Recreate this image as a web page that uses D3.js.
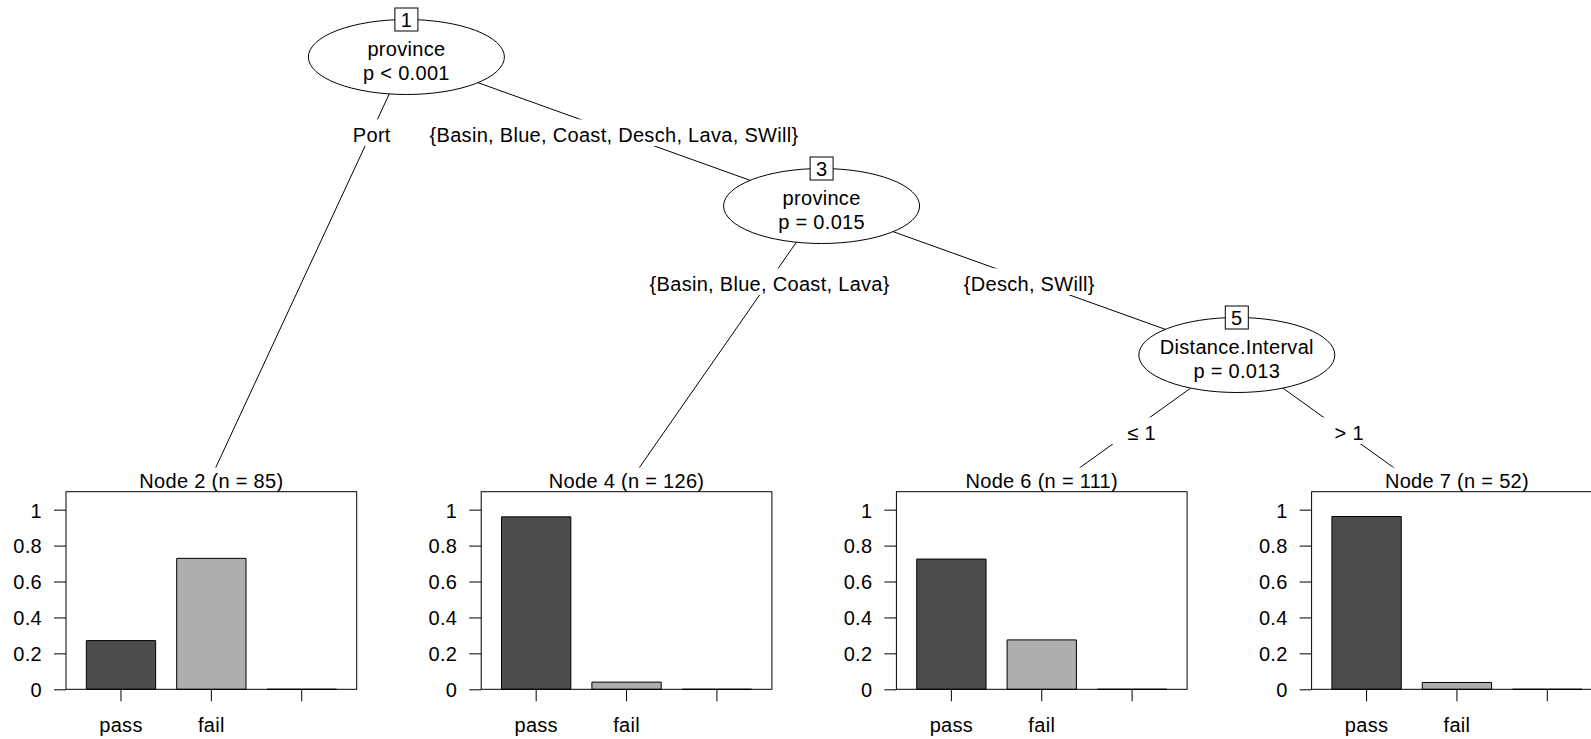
<!DOCTYPE html>
<html><head><meta charset="utf-8">
<script src="https://cdn.jsdelivr.net/npm/d3@7"></script>
<style>
html,body{margin:0;padding:0;background:#fff;overflow:hidden}
svg{display:block;background:#fff}
text{font-family:"Liberation Sans",Arial,Helvetica,sans-serif;font-size:20px;fill:#000;letter-spacing:0.3px}
</style></head><body>
<svg id="chart" width="1591" height="739"></svg>
<script>
// ---------------- data ----------------
const nodeIds      = [1, 2, 3, 4, 5, 6, 7];
const nodeParents  = [null, 1, 1, 3, 3, 5, 5];
const edgeLabels   = [null, "Port", "{Basin, Blue, Coast, Desch, Lava, SWill}", "{Basin, Blue, Coast, Lava}", "{Desch, SWill}", "≤ 1", "> 1"];
const edgePhantom  = [false, false, false, false, false, true, true];

const innerIds       = [1, 3, 5];
const innerVariables = ["province", "province", "Distance.Interval"];
const innerPValues   = ["p < 0.001", "p = 0.015", "p = 0.013"];

const terminalIds = [2, 4, 6, 7];
const terminalN   = [85, 126, 111, 52];
const classLevels = ["pass", "fail", ""];
const passShare   = [0.271, 0.960, 0.725, 0.962];
const failShare   = [0.729, 0.040, 0.275, 0.038];
const otherShare  = [0, 0, 0, 0];
const barColors   = ["#4D4D4D", "#AEAEAE", "#E6E6E6"];

const yTickValues = [0, 0.2, 0.4, 0.6, 0.8, 1];
const yTickLabels = ["0", "0.2", "0.4", "0.6", "0.8", "1"];

// ---------------- layout ----------------
const W = 1591, H = 739;
const kids = {};
nodeIds.forEach(id => kids[id] = []);
nodeIds.forEach((id, i) => { if (nodeParents[i] != null) kids[nodeParents[i]].push(id); });
const depth = {};
(function setDepth(id, d) { depth[id] = d; kids[id].forEach(k => setDepth(k, d + 1)); })(1, 0);
const maxDepth = d3.max(Object.values(depth));
const nLeaves = {};
function countLeaves(id) { nLeaves[id] = kids[id].length ? d3.sum(kids[id], countLeaves) : 1; return nLeaves[id]; }
countLeaves(1);
const xPos = {}, level = {};
function place(id, left) {
  if (!kids[id].length) { xPos[id] = left + 0.5; level[id] = maxDepth; return; }
  xPos[id] = left + nLeaves[kids[id][0]];
  level[id] = depth[id];
  let l = left;
  kids[id].forEach(k => { place(k, l); l += nLeaves[k]; });
}
place(1, 0);

const xTree = d3.scaleLinear().domain([0, nLeaves[1]]).range([-8.8, 1652]);
const yTree = d3.scaleLinear().domain([0, maxDepth]).range([57, 504]);
const yBar  = d3.scaleLinear().domain([0, 1.1]).range([689.3, 491.7]);

const svg = d3.select("#chart");

// ---------------- edges ----------------
const gEdges = svg.append("g");
nodeIds.forEach((id, i) => {
  const p = nodeParents[i]; if (p == null) return;
  gEdges.append("line")
    .attr("x1", xTree(xPos[p])).attr("y1", yTree(level[p]))
    .attr("x2", xTree(xPos[id])).attr("y2", yTree(level[id]))
    .attr("stroke", "#000").attr("stroke-width", 1);
});

const gLabels = svg.append("g");
nodeIds.forEach((id, i) => {
  const p = nodeParents[i]; if (p == null) return;
  const x0 = xTree(xPos[p]), y0 = yTree(level[p]);
  const x1 = xTree(xPos[id]), y1 = yTree(level[id]);
  const ym = yTree(level[p] + 0.5);
  const xm = x0 + (x1 - x0) * (ym - y0) / (y1 - y0);
  const g = gLabels.append("g");
  const rect = g.append("rect");
  const t = g.append("text").attr("x", xm).attr("y", ym + 10.2).attr("text-anchor", "middle");
  if (edgePhantom[i]) {
    t.append("tspan").attr("fill-opacity", 0).text("0");
    t.append("tspan").text(" " + edgeLabels[i]);
  } else {
    t.text(edgeLabels[i]);
  }
  const w = t.node().getComputedTextLength();
  rect.attr("x", xm - w / 2).attr("y", ym + 1.2 - 13.3).attr("width", w).attr("height", 26.6).attr("fill", "#fff");
});

// ---------------- inner nodes ----------------
const rx = 98, ry = 37.5;
innerIds.forEach((id, i) => {
  const cx = xTree(xPos[id]), cy = yTree(level[id]);
  const g = svg.append("g");
  g.append("ellipse").attr("cx", cx).attr("cy", cy).attr("rx", rx).attr("ry", ry)
    .attr("fill", "#fff").attr("stroke", "#000").attr("stroke-width", 1);
  g.append("text").attr("x", cx).attr("y", cy - 1.5).attr("text-anchor", "middle").text(innerVariables[i]);
  g.append("text").attr("x", cx).attr("y", cy + 23).attr("text-anchor", "middle").text(innerPValues[i]);
  g.append("rect").attr("x", cx - 11.5).attr("y", cy - ry - 11.5).attr("width", 23).attr("height", 23)
    .attr("fill", "#fff").attr("stroke", "#000").attr("stroke-width", 1);
  g.append("text").attr("x", cx).attr("y", cy - ry + 7.3).attr("text-anchor", "middle").text(id);
});

// ---------------- terminal nodes ----------------
terminalIds.forEach((id, i) => {
  const cx = xTree(xPos[id]);
  const g = svg.append("g");
  g.append("rect").attr("x", cx - 181.5).attr("y", 467.5).attr("width", 363).attr("height", H - 467.5).attr("fill", "#fff");
  const boxLeft = cx - 132.8, boxW = 290.7;
  const xBand = d3.scaleBand().domain(classLevels.map((d, j) => j))
    .range([boxLeft, boxLeft + boxW]).paddingInner(0.233).paddingOuter(0.225);
  const vals = [passShare[i], failShare[i], otherShare[i]];
  vals.forEach((v, j) => {
    const x = xBand(j), bw = xBand.bandwidth();
    g.append("path")
      .attr("d", `M${x},${yBar(0)}H${x + bw}V${yBar(v)}H${x}Z`)
      .attr("fill", barColors[j]).attr("stroke", "#000").attr("stroke-width", 1);
  });
  g.append("rect").attr("x", boxLeft).attr("y", yBar(1.1)).attr("width", boxW).attr("height", yBar(0) - yBar(1.1))
    .attr("fill", "none").attr("stroke", "#000").attr("stroke-width", 1);
  const ya = g.append("g").attr("transform", `translate(${boxLeft},0)`)
    .call(d3.axisLeft(yBar).tickValues(yTickValues).tickFormat((d, k) => yTickLabels[k]).tickSize(12).tickPadding(12));
  ya.select(".domain").remove();
  ya.selectAll("text").attr("dy", "0.37em");
  const xa = g.append("g").attr("transform", `translate(0,${yBar(0)})`)
    .call(d3.axisBottom(xBand).tickFormat(j => classLevels[j]).tickSize(12).tickPadding(17));
  xa.select(".domain").remove();
  g.append("text").attr("x", boxLeft + boxW / 2).attr("y", 488).attr("text-anchor", "middle")
    .text(`Node ${id} (n = ${terminalN[i]})`);
});
</script>
</body></html>
